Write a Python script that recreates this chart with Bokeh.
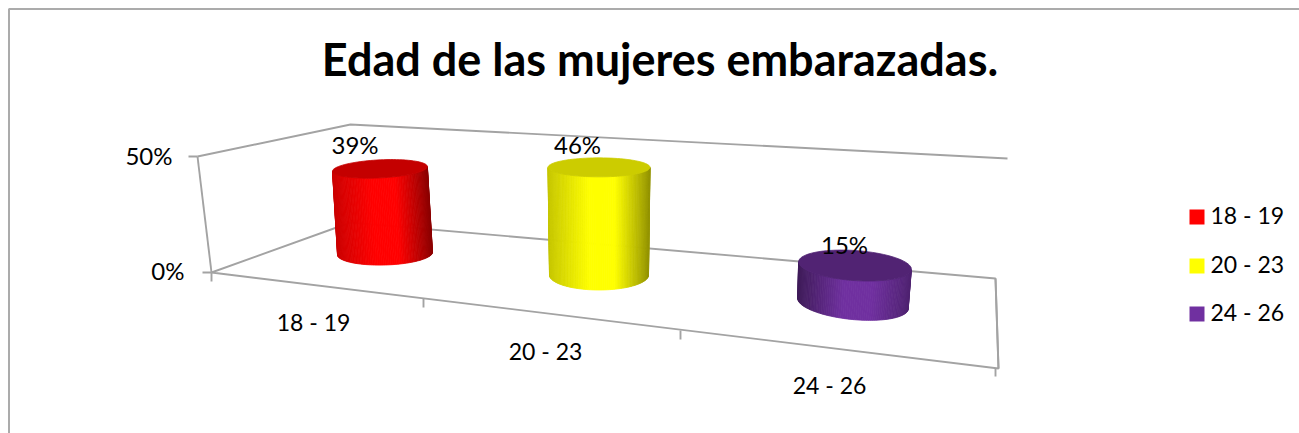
import numpy as np
from bokeh.core.properties import value
from bokeh.embed import file_html
from bokeh.models import Range1d
from bokeh.plotting import figure
from bokeh.resources import INLINE

# Chart content
title = "Edad de las mujeres embarazadas."
categories = ["18 - 19", "20 - 23", "24 - 26"]
shares = [39, 46, 15]
share_labels = ["39%", "46%", "15%"]
value_ticks = ["0%", "50%"]
series_colors = [(255, 0, 0), (255, 255, 0), (112, 48, 160)]

# Perspective of each cylinder on the floor of the 3D box
base_x = [384.5, 598.5, 852.5]
base_y = [253.0, 274.5, 303.0]
px_per_pct = [2.17, 2.34, 2.53]
lean_per_pct = [-0.13, 0.0, 0.133]
top_rx = [47.5, 51.0, 56.5]
base_rx = [47.5, 49.5, 55.5]
top_ry = [9.0, 9.5, 15.0]
base_ry = [11.5, 15.0, 16.0]
top_tilt = [-0.05, 0.0, 0.07]
base_tilt = [-0.03, 0.0, 0.10]
left_shade = [0.80, 0.78, 0.55]
right_shade = [0.55, 0.58, 0.70]
top_shade = [0.77, 0.80, 0.72]

GRID = "#a3a3a3"
FONT = value("Lato")

p = figure(width=1299, height=433, x_range=Range1d(0, 1299), y_range=Range1d(433, 0),
           output_backend="svg", toolbar_location=None, min_border=0)
p.axis.visible = False
p.grid.visible = False
p.outline_line_color = None
p.background_fill_color = "white"
p.border_fill_color = "white"


def rgb(color, k):
    return "#%02x%02x%02x" % tuple(int(round(c * k)) for c in color)


def ellipse_point(cx, cy, rx, ry, tilt, t):
    ex, ey = rx * np.cos(t), ry * np.sin(t)
    return cx + ex * np.cos(tilt) - ey * np.sin(tilt), cy + ex * np.sin(tilt) + ey * np.cos(tilt)


# Chart frame
p.line([8.5, 8.5, 1299], [433, 8.5, 8.5], line_color="#ababab", line_width=2)

# Box walls, floor and ticks
box = [
    ([197, 350, 1007], [156, 124, 158]),
    ([197, 211], [156, 272]),
    ([350, 211, 998, 995, 350], [222, 272, 368, 278, 222]),
    ([995, 998], [278, 368]),
    ([188, 197], [156, 156]),
    ([202, 211], [272, 272]),
    ([211, 211], [272, 281]),
    ([423, 423], [298, 307]),
    ([680, 680], [330, 339]),
    ([995, 995], [368, 376]),
]
for xs, ys in box:
    p.line(xs, ys, line_color=GRID, line_width=1.9)

# Cylinders: the shaded side is a run of narrow strips below the darker cap
for i, share in enumerate(shares):
    color = series_colors[i]
    cap_x = base_x[i] + lean_per_pct[i] * share
    cap_y = base_y[i] - px_per_pct[i] * share
    edges = np.linspace(np.pi, 0, 81)
    tx, ty = ellipse_point(cap_x, cap_y, top_rx[i], top_ry[i], top_tilt[i], edges)
    bx, by = ellipse_point(base_x[i], base_y[i], base_rx[i], base_ry[i], base_tilt[i], edges)
    strip_x, strip_y, strip_c = [], [], []
    for j in range(80):
        strip_x.append([tx[j], tx[j + 1], bx[j + 1], bx[j]])
        strip_y.append([ty[j], ty[j + 1], by[j + 1], by[j]])
        # Shade by horizontal position across the cylinder
        u = (tx[j] - tx[0]) / (tx[-1] - tx[0])
        if u < 0.5:
            k = left_shade[i] + (1 - left_shade[i]) * min(u / 0.4, 1)
        else:
            k = right_shade[i] + (1 - right_shade[i]) * min((1 - u) / 0.35, 1)
        strip_c.append(rgb(color, k))
    p.patches(strip_x, strip_y, fill_color=strip_c, line_color=strip_c, line_width=0.8)
    around = np.linspace(0, 2 * np.pi, 90)
    cx, cy = ellipse_point(cap_x, cap_y, top_rx[i], top_ry[i], top_tilt[i], around)
    p.patch(cx, cy, fill_color=rgb(color, top_shade[i]), line_color=rgb(color, top_shade[i]), line_width=0.8)

# Value labels over the cylinders
p.text([354.5, 577, 844], [144, 143.5, 243.5], text=share_labels, text_font=FONT, text_font_size="24px",
       text_color="#000000", text_align="center", text_baseline="middle")

# Axis labels
p.text([184, 172], [270, 155], text=value_ticks, text_font=FONT, text_font_size="24px",
       text_color="#000000", text_align="right", text_baseline="middle")
p.text([313, 545, 829], [321, 350, 384.5], text=categories, text_font=FONT, text_font_size="23px",
       text_color="#000000", text_align="center", text_baseline="middle")

# Legend
legend_y = [216.5, 265.5, 313.5]
legend_text_y = [214.5, 263.5, 311.5]
p.rect([1196.5] * 3, legend_y, width=15, height=15, fill_color=[rgb(c, 1) for c in series_colors], line_color=None)
p.text([1210] * 3, legend_text_y, text=categories, text_font=FONT, text_font_size="23px",
       text_color="#000000", text_align="left", text_baseline="middle")

# Title
p.text([659.5], [58], text=[title], text_font=FONT, text_font_size="45px", text_font_style="bold",
       text_color="#000000", text_align="center", text_baseline="middle")

open("out.html", "w").write(file_html(p, INLINE))
